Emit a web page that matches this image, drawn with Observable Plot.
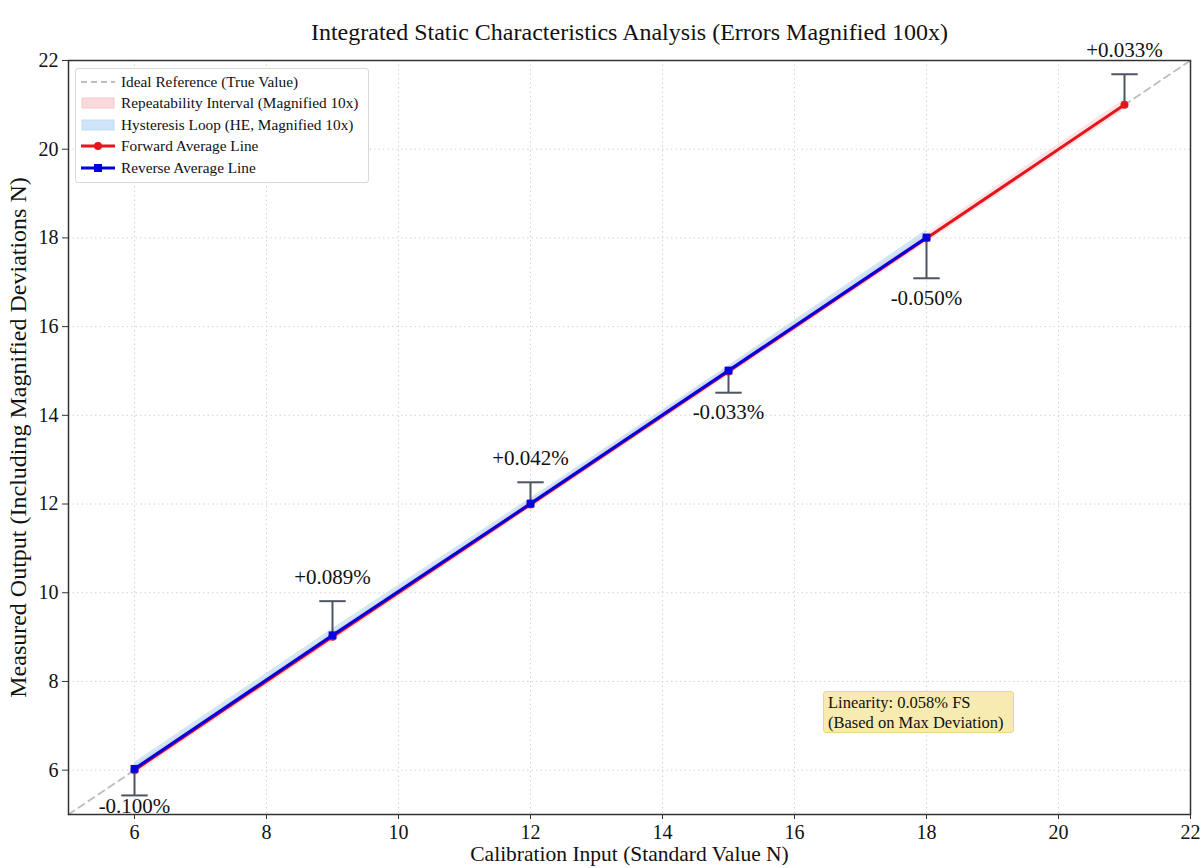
<!DOCTYPE html>
<html>
<head>
<meta charset="utf-8">
<script src="https://cdn.jsdelivr.net/npm/d3@7"></script>
<script src="https://cdn.jsdelivr.net/npm/@observablehq/plot@0.6"></script>
<style>
  html, body { margin: 0; padding: 0; background: white; }
  #wrap { position: relative; width: 1203px; height: 868px; font-family: "Liberation Serif", "Times New Roman", serif; }
  #legend { position: absolute; left: 75px; top: 68px; width: 294px; height: 115px; border: 1px solid #d8d8d8; border-radius: 3px; background: rgba(255,255,255,0.9); font-size: 15.3px; color: #111; box-sizing: border-box; padding-top: 2px; white-space: nowrap; }
  #legend .row { display: flex; align-items: center; height: 21.5px; }
  #legend svg { margin-left: 5px; margin-right: 6px; flex: none; }
  #lin { position: absolute; left: 823px; top: 691px; width: 191px; height: 42px; box-sizing: border-box; background: #f8ebb0; border: 1px solid #efd58a; border-radius: 3px; font-size: 16.5px; line-height: 19.5px; padding: 1px 4px; color: #111; white-space: nowrap; }
</style>
</head>
<body>
<div id="wrap"></div>
<script>
// ---- data ----
const titleText = "Integrated Static Characteristics Analysis (Errors Magnified 100x)";
const xLabel = "Calibration Input (Standard Value N)";
const yLabel = "Measured Output (Including Magnified Deviations N)";
const xTicks = [6, 8, 10, 12, 14, 16, 18, 20, 22];
const yTicks = [6, 8, 10, 12, 14, 16, 18, 20, 22];
const idealX = [5, 22];

const fwdX = [6, 9, 12, 15, 18, 21];
const fwdY = [6.00, 9.01, 11.99, 14.99, 17.99, 21.00];
const repLo = [5.90, 8.90, 11.90, 14.89, 17.89, 20.88];
const repHi = [6.10, 9.10, 12.09, 15.10, 18.09, 21.12];

const revX = [6, 9, 12, 15, 18];
const revY = [6.03, 9.04, 12.01, 15.01, 18.01];
const hystLo = [6.00, 9.00, 11.99, 14.99, 17.99];
const hystHi = [6.17, 9.19, 12.13, 15.12, 18.18];

const errX = [6, 9, 12, 15, 18, 21];
const errStart = [6.03, 9.04, 12.01, 15.01, 18.01, 21.00];
const errEnd = [5.43, 9.81, 12.49, 14.51, 17.09, 21.69];
const errLabels = ["-0.100%", "+0.089%", "+0.042%", "-0.033%", "-0.050%", "+0.033%"];

const legendItems = ["Ideal Reference (True Value)", "Repeatability Interval (Magnified 10x)", "Hysteresis Loop (HE, Magnified 10x)", "Forward Average Line", "Reverse Average Line"];
const linearityLines = ["Linearity: 0.058% FS", "(Based on Max Deviation)"];

// ---- tables ----
const ideal = idealX.map(v => ({x: v, y: v}));
const fwd = fwdX.map((x, i) => ({x, y: fwdY[i], lo: repLo[i], hi: repHi[i]}));
const rev = revX.map((x, i) => ({x, y: revY[i], lo: hystLo[i], hi: hystHi[i]}));
const errs = errX.map((x, i) => ({x, y0: errStart[i], y1: errEnd[i], label: errLabels[i], up: errEnd[i] > errStart[i]}));

const RED = "#e6141b", BLUE = "#0000e0", BAR = "#4b5563";

const chart = Plot.plot({
  width: 1203, height: 868,
  marginTop: 60, marginBottom: 54, marginLeft: 68, marginRight: 13,
  x: {domain: [5, 22]},
  y: {domain: [5, 22]},
  style: {fontFamily: "Liberation Serif, Times New Roman, serif", fontSize: "20px", background: "white", color: "#111", overflow: "visible"},
  marks: [
    Plot.gridX(xTicks, {stroke: "#d4d4d4", strokeOpacity: 1, strokeDasharray: "1.5,3"}),
    Plot.gridY(yTicks, {stroke: "#d4d4d4", strokeOpacity: 1, strokeDasharray: "1.5,3"}),
    Plot.line(ideal, {x: "x", y: "y", stroke: "#bdbdbd", strokeWidth: 1.8, strokeDasharray: "7,5"}),
    Plot.areaY(fwd, {x: "x", y1: "lo", y2: "hi", fill: "#fbd0d3", fillOpacity: 0.6}),
    Plot.areaY(rev, {x: "x", y1: "lo", y2: "hi", fill: "#bcd9f0", fillOpacity: 0.65}),
    Plot.line(fwd, {x: "x", y: "y", stroke: RED, strokeWidth: 3}),
    Plot.line(rev, {x: "x", y: "y", stroke: BLUE, strokeWidth: 3}),
    Plot.link(errs, {x1: "x", x2: "x", y1: "y0", y2: "y1", stroke: BAR, strokeWidth: 2}),
    Plot.link(errs, {x1: d => d.x - 0.2, x2: d => d.x + 0.2, y1: "y1", y2: "y1", stroke: BAR, strokeWidth: 2}),
    Plot.dot(fwd, {x: "x", y: "y", r: 4, fill: RED, stroke: "none"}),
    Plot.dot(rev, {x: "x", y: "y", r: 4.4, symbol: "square", fill: BLUE, stroke: "none"}),
    Plot.text(errs.filter(d => d.up), {x: "x", y: "y1", text: "label", dy: -24, fontSize: 21, fill: "#111"}),
    Plot.text(errs.filter(d => !d.up), {x: "x", y: d => Math.max(d.y1 - 0.45, 5.18), text: "label", fontSize: 21, fill: "#111"}),
    Plot.frame({stroke: "#333", strokeWidth: 1.5}),
    Plot.axisX(xTicks, {tickSize: 5, tickPadding: 5, fontSize: 20, label: null, stroke: "#333"}),
    Plot.axisY(yTicks, {tickSize: 6, tickPadding: 4, fontSize: 20, label: null, stroke: "#333"}),
    Plot.text([xLabel], {frameAnchor: "bottom", dy: 46, fontSize: 21.5, fill: "#111"}),
    Plot.text([yLabel], {frameAnchor: "left", textAnchor: "middle", rotate: -90, dx: -50, fontSize: 24, fill: "#111"}),
    Plot.text([titleText], {frameAnchor: "top", dy: -38, fontSize: 24, fill: "#111"})
  ]
});

const wrap = document.getElementById("wrap");
wrap.appendChild(chart);

// legend
const swatches = [
  `<svg width="34" height="12"><line x1="0" y1="6" x2="34" y2="6" stroke="#bdbdbd" stroke-width="1.8" stroke-dasharray="6,4"/></svg>`,
  `<svg width="34" height="12"><rect x="1" y="1" width="32" height="10" fill="#fbd9dc" stroke="#f5c2c7" stroke-width="0.8"/></svg>`,
  `<svg width="34" height="12"><rect x="1" y="1" width="32" height="10" fill="#cfe4f6" stroke="#b9d6ef" stroke-width="0.8"/></svg>`,
  `<svg width="34" height="12"><line x1="0" y1="6" x2="34" y2="6" stroke="${RED}" stroke-width="3"/><circle cx="17" cy="6" r="4" fill="${RED}"/></svg>`,
  `<svg width="34" height="12"><line x1="0" y1="6" x2="34" y2="6" stroke="${BLUE}" stroke-width="3"/><rect x="13" y="2" width="8" height="8" fill="${BLUE}"/></svg>`
];
const legend = document.createElement("div");
legend.id = "legend";
legend.innerHTML = legendItems.map((t, i) => `<div class="row">${swatches[i]}<span>${t}</span></div>`).join("");
wrap.appendChild(legend);

const lin = document.createElement("div");
lin.id = "lin";
lin.innerHTML = linearityLines.join("<br>");
wrap.appendChild(lin);
</script>
</body>
</html>
